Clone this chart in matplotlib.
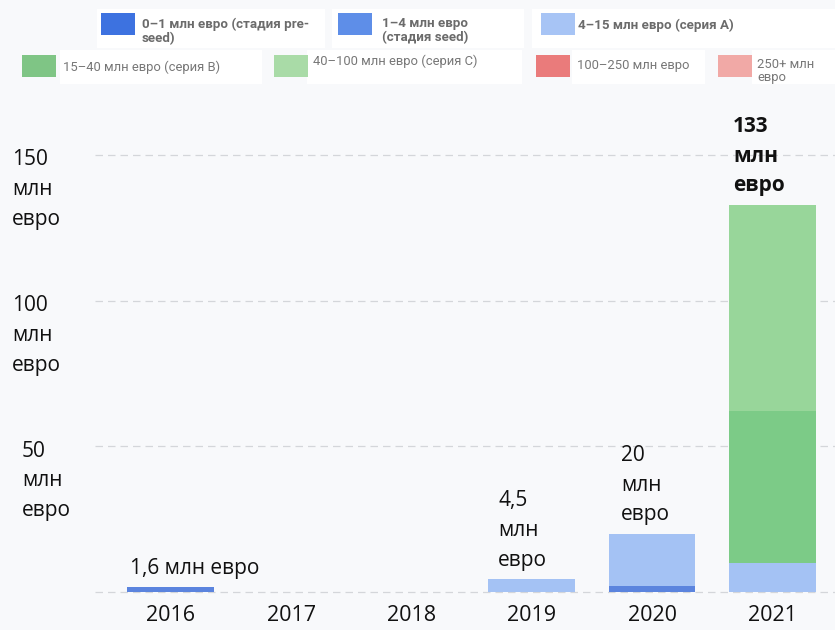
import matplotlib.pyplot as plt
from matplotlib.patches import Rectangle
import matplotlib.transforms as mtransforms

# --- data ---
years = ['2016', '2017', '2018', '2019', '2020', '2021']
preseed = [0, 0, 0, 0, 0, 0]          # 0–1 млн евро
seed = [1.6, 0, 0, 0, 2, 0]           # 1–4 млн евро
series_a = [0, 0, 0, 4.5, 18, 10]     # 4–15 млн евро
series_b = [0, 0, 0, 0, 0, 52]        # 15–40 млн евро
series_c = [0, 0, 0, 0, 0, 71]        # 40–100 млн евро
series_d = [0, 0, 0, 0, 0, 0]         # 100–250 млн евро
series_e = [0, 0, 0, 0, 0, 0]         # 250+ млн евро
total_labels = ['1,6 млн евро', '', '', '4,5\nмлн\nевро', '20\nмлн\nевро', '133\nмлн\nевро']
ytick_vals = [50, 100, 150]
ytick_labels = ['50\nмлн\nевро', '100\nмлн\nевро', '150\nмлн\nевро']

legend_labels = ['0–1 млн евро (стадия pre-\nseed)', '1–4 млн евро\n(стадия seed)',
                 '4–15 млн евро (серия А)', '15–40 млн евро (серия В)',
                 '40–100 млн евро (серия С)', '100–250 млн евро', '250+ млн\nевро']
legend_colors = ['#3d72e0', '#5e8ee8', '#a7c4f5', '#7fc585', '#a9dba7', '#ea7b7b', '#f1a9a6']
bar_colors = ['#3d72e0', '#5b84de', '#a4c2f4', '#7ccb87', '#98d69a', '#ea7b7b', '#f1a9a6']

BG = '#f8f9fb'
FONT = ['Open Sans', 'DejaVu Sans']
plt.rcParams['font.family'] = FONT

W, H = 835, 630
fig = plt.figure(figsize=(W / 100, H / 100), dpi=100, facecolor=BG)

# axes: left edge at x=95px, y=0 at 592px, 150 at 155px
ax = fig.add_axes([95 / W, (H - 600.7) / H, 1 - 95 / W, (600.7 - 100) / H])
ax.set_facecolor(BG)
ax.set_xlim(-0.63, 5.52)
ax.set_ylim(-3, 169)

x = range(len(years))
bottom = [0] * len(years)
for vals, col in zip([preseed, seed, series_a, series_b, series_c, series_d, series_e], bar_colors):
    ax.bar(x, vals, width=0.72, bottom=bottom, color=col, linewidth=0, zorder=3)
    bottom = [b + v for b, v in zip(bottom, vals)]

# total labels above bars
label_dx = [2, 0, 0, 7, 9, 3]
for i, (tot, lab) in enumerate(zip(bottom, total_labels)):
    if not lab:
        continue
    bold = (i == len(years) - 1)
    ax.annotate(lab, xy=(i - 0.36, tot), xytext=(label_dx[i], 6), textcoords='offset points',
                ha='left', va='bottom', fontsize=15, linespacing=1.55,
                fontweight='bold' if bold else 'normal', color='#111111', zorder=4)

# grid
for v in [0] + ytick_vals:
    ax.axhline(v, color='#d4d6da', lw=0.9, ls=(0, (6, 4)), zorder=1)

ax.set_yticks([])
ax.set_xticks(list(x))
ax.set_xticklabels(years, fontsize=15.5, color='#111111')
ax.tick_params(axis='x', length=0, pad=3)
for s in ax.spines.values():
    s.set_visible(False)

# y labels: x in figure pixels, y in data
trans = mtransforms.blended_transform_factory(fig.transFigure, ax.transData)
for v, lab in zip(ytick_vals, ytick_labels):
    xpos = 22 if v == 50 else 12
    ax.text(xpos / W, v + 2, lab, transform=trans, ha='left', va='top', fontsize=15,
            linespacing=1.55, color='#111111', clip_on=False)

# legend (pixel layout: square x, square y, text x, text centre y, bold)
entries = [
    (101, 13, 142, 31, True), (338, 13, 382, 31, True), (541, 13, 578, 25, True),
    (22, 55, 63, 67, False), (274, 55, 313, 61, False), (536, 55, 577, 65, False), (718, 55, 757, 71, False),
]
bg_boxes = [(97, 9, 228, 39), (332, 9, 192, 39), (532, 9, 303, 39),
            (60, 50, 202, 34), (307, 50, 215, 34), (572, 50, 133, 34), (752, 50, 83, 34)]
for (bx, by, bw, bh) in bg_boxes:
    fig.patches.append(Rectangle((bx / W, 1 - (by + bh) / H), bw / W, bh / H,
                                 transform=fig.transFigure, facecolor='white', edgecolor='none', zorder=0))
for (sx, sy, tx, ty, bold), lab, col in zip(entries, legend_labels, legend_colors):
    fig.patches.append(Rectangle((sx / W, 1 - (sy + 22) / H), 34 / W, 22 / H,
                                 transform=fig.transFigure, facecolor=col, edgecolor='none', zorder=1))
    fig.text(tx / W, 1 - ty / H, lab, ha='left', va='center', fontsize=9.6 if bold else 9.4,
             family=['Roboto', 'DejaVu Sans'], fontweight='bold' if bold else 'normal',
             color='#6b6b6b' if bold else '#777777', linespacing=1.1)

fig.savefig('out.png', dpi=100, facecolor=BG)
